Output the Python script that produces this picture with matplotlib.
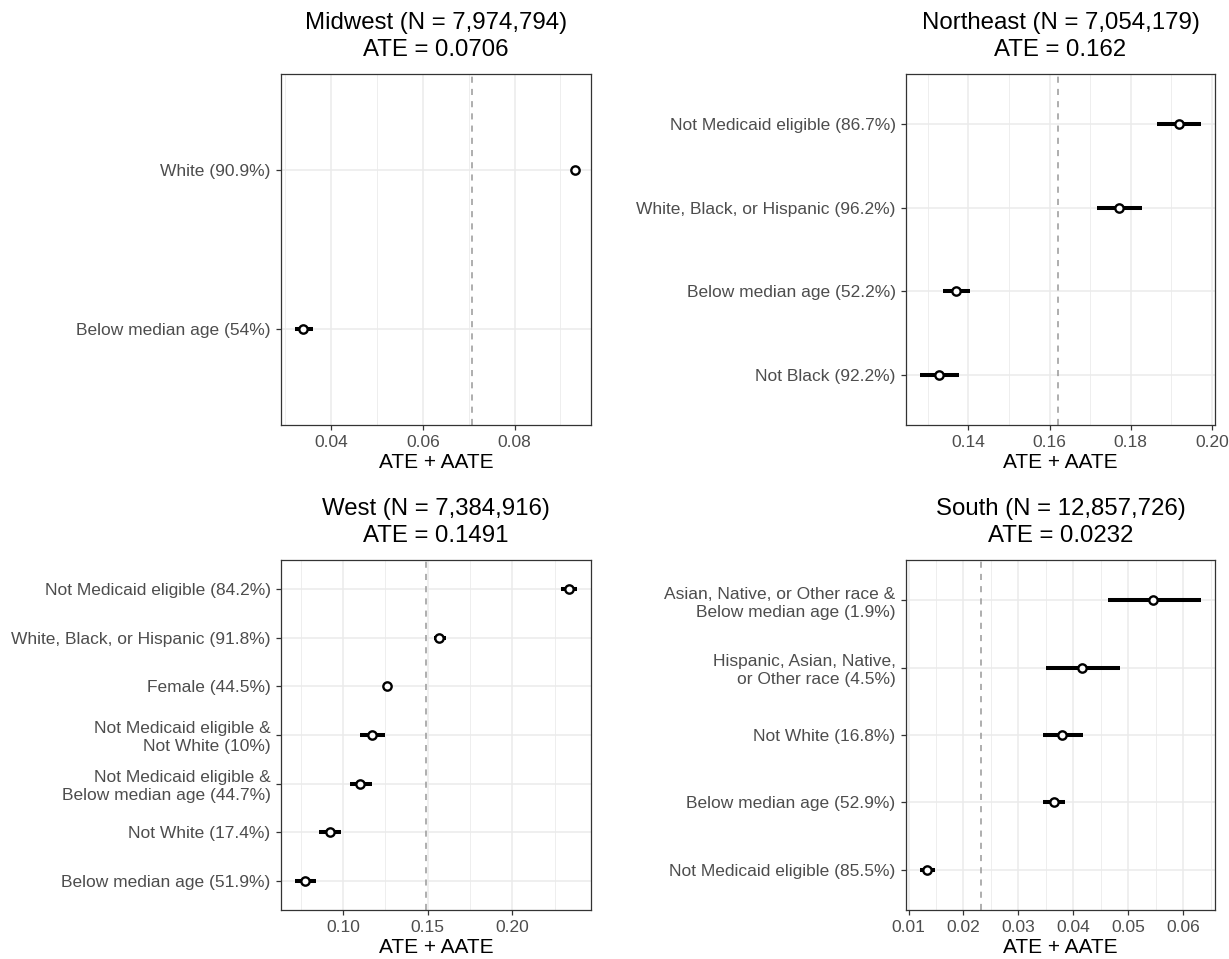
import matplotlib
matplotlib.use("Agg")
import matplotlib.pyplot as plt
from matplotlib.ticker import MultipleLocator

plt.rcParams['font.family'] = ['Liberation Sans', 'DejaVu Sans']

# subgroup estimates per region, listed top to bottom
mw_labels = ["White (90.9%)", "Below median age (54%)"]
mw_est = [0.0931, 0.0339]
mw_lo = [0.0926, 0.0321]
mw_hi = [0.0936, 0.0359]

ne_labels = ["Not Medicaid eligible (86.7%)", "White, Black, or Hispanic (96.2%)",
             "Below median age (52.2%)", "Not Black (92.2%)"]
ne_est = [0.1918, 0.1770, 0.1370, 0.1327]
ne_lo = [0.1865, 0.1716, 0.1338, 0.1281]
ne_hi = [0.1973, 0.1827, 0.1403, 0.1378]

we_labels = ["Not Medicaid eligible (84.2%)", "White, Black, or Hispanic (91.8%)",
             "Female (44.5%)", "Not Medicaid eligible &\nNot White (10%)",
             "Not Medicaid eligible &\nBelow median age (44.7%)",
             "Not White (17.4%)", "Below median age (51.9%)"]
we_est = [0.2333, 0.1568, 0.1259, 0.1169, 0.1098, 0.0920, 0.0775]
we_lo = [0.2288, 0.1537, 0.1250, 0.1100, 0.1039, 0.0859, 0.0716]
we_hi = [0.2382, 0.1606, 0.1268, 0.1245, 0.1172, 0.0987, 0.0839]

so_labels = ["Asian, Native, or Other race &\nBelow median age (1.9%)",
             "Hispanic, Asian, Native,\nor Other race (4.5%)",
             "Not White (16.8%)", "Below median age (52.9%)",
             "Not Medicaid eligible (85.5%)"]
so_est = [0.0545, 0.0416, 0.0380, 0.0364, 0.0134]
so_lo = [0.0462, 0.0351, 0.0345, 0.0345, 0.0121]
so_hi = [0.0632, 0.0484, 0.0417, 0.0385, 0.0149]

regions = ["Midwest", "Northeast", "West", "South"]
region_n = ["7,974,794", "7,054,179", "7,384,916", "12,857,726"]
region_ate = [0.0706, 0.162, 0.1491, 0.0232]
ate_text = ["0.0706", "0.162", "0.1491", "0.0232"]

W, H = 1229, 959
fig = plt.figure(figsize=(W / 100, H / 100), dpi=100)

def px_axes(x0, y0, x1, y1):
    return fig.add_axes([x0 / W, 1 - y1 / H, (x1 - x0) / W, (y1 - y0) / H])

boxes = [(281, 74, 591, 425), (906, 74, 1215, 425),
         (281, 560, 591, 910), (906, 560, 1215, 910)]
panels = [(mw_labels, mw_est, mw_lo, mw_hi, 0.02),
          (ne_labels, ne_est, ne_lo, ne_hi, 0.02),
          (we_labels, we_est, we_lo, we_hi, 0.05),
          (so_labels, so_est, so_lo, so_hi, 0.01)]

for i, (box, (labels, est, lo, hi, step)) in enumerate(zip(boxes, panels)):
    ax = px_axes(*box)
    n = len(labels)
    ys = list(range(n, 0, -1))
    ax.hlines(ys, lo, hi, color="black", linewidth=2.9, zorder=3)
    ax.plot(est, ys, "o", ms=6, mfc="white", mec="black", mew=1.7, zorder=4)
    ax.axvline(region_ate[i], color="#999999", linestyle=(0, (4, 4)), linewidth=1.1, zorder=2)
    ax.margins(x=0.05)
    ax.set_ylim(0.4, n + 0.6)
    ax.set_yticks(ys)
    ax.set_yticklabels(labels, ha="right", linespacing=1.25)
    ax.xaxis.set_major_locator(MultipleLocator(step))
    ax.xaxis.set_minor_locator(MultipleLocator(step / 2))
    ax.xaxis.set_major_formatter(plt.FuncFormatter(lambda v, p: f"{v:.2f}"))
    ax.grid(which="major", color="#EBEBEB", linewidth=1.1, zorder=0)
    ax.grid(which="minor", axis="x", color="#EBEBEB", linewidth=0.6, zorder=0)
    ax.set_axisbelow(True)
    for sp in ax.spines.values():
        sp.set_color("#333333")
        sp.set_linewidth(0.9)
    ax.tick_params(which="major", length=3.5, width=0.9, color="#333333",
                   labelcolor="#4D4D4D", labelsize=12.5, pad=4)
    ax.tick_params(which="minor", length=0)
    ax.set_xlabel("ATE + AATE", fontsize=15, labelpad=2)
    ax.set_title(f"{regions[i]} (N = {region_n[i]})\nATE = {ate_text[i]}",
                 fontsize=17.3, linespacing=1.3, pad=13)

fig.savefig("out.png", dpi=100)
